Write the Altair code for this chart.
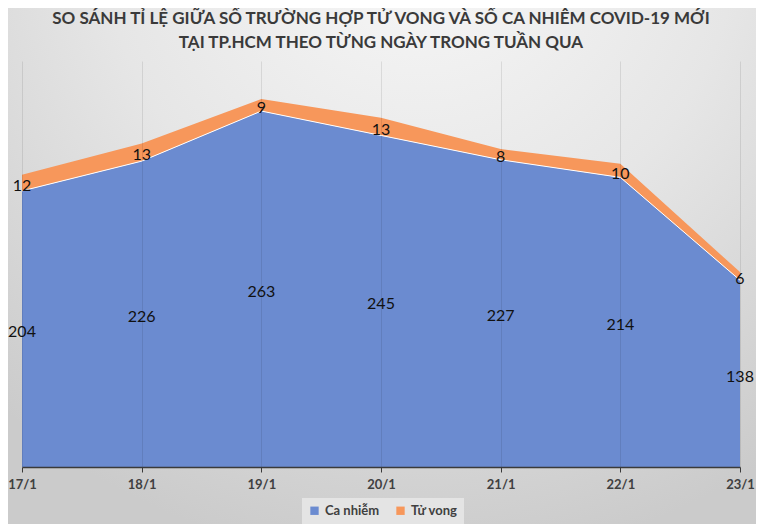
import altair as alt
import pandas as pd

dates = ["17/1", "18/1", "19/1", "20/1", "21/1", "22/1", "23/1"]
cases = [204, 226, 263, 245, 227, 214, 138]
deaths = [12, 13, 9, 13, 8, 10, 6]
series_names = ["Ca nhiễm", "Tử vong"]
series_colors = ["#6b8bd0", "#f7975b"]
title_lines = ["SO SÁNH TỈ LỆ GIỮA SỐ TRƯỜNG HỢP TỬ VONG VÀ SỐ CA NHIỄM COVID-19 MỚI",
               "TẠI TP.HCM THEO TỪNG NGÀY TRONG TUẦN QUA"]

rows = []
for d, c, k in zip(dates, cases, deaths):
    rows.append({"date": d, "series": series_names[0], "value": c, "ord": 0})
    rows.append({"date": d, "series": series_names[1], "value": k, "ord": 1})
df = pd.DataFrame(rows)

W, H = 718, 406
PAD = {"left": 14, "top": 53, "right": 16, "bottom": 57}

xenc = alt.X("date:N", sort=dates, scale=alt.Scale(type="point", padding=0),
             axis=alt.Axis(title=None, labelAngle=0, grid=True, gridColor="#000000",
                           gridOpacity=0.09, zindex=1,
                           domainColor="#3a3a3a", domainWidth=1.5, tickColor="#3a3a3a",
                           tickSize=5, labelFont="Lato", labelFontWeight="bold",
                           labelFontSize=13, labelColor="#404040", labelPadding=6))
yscale = alt.Scale(domain=[0, 300])

bg = alt.Chart(pd.DataFrame({"a": [0]})).mark_rect(
    fill=alt.Gradient(gradient="radial", stops=[
        alt.GradientStop(color="#f8f8f8", offset=0),
        alt.GradientStop(color="#e6e6e6", offset=0.5),
        alt.GradientStop(color="#cbcbcb", offset=1)],
        x1=0.55, y1=0.05, r1=0, x2=0.55, y2=0.05, r2=0.85),
    clip=False
).encode(x=alt.value(-PAD["left"]), x2=alt.value(W + PAD["right"]),
         y=alt.value(-PAD["top"]), y2=alt.value(H + PAD["bottom"]))

base = alt.Chart(df)

area = base.mark_area(opacity=1).encode(
    x=xenc,
    y=alt.Y("value:Q", stack="zero", scale=yscale, axis=None),
    color=alt.Color("series:N", sort=series_names,
                    scale=alt.Scale(domain=series_names, range=series_colors),
                    legend=alt.Legend(title=None, orient="none", direction="horizontal",
                                      legendX=280, legendY=437, symbolType="square",
                                      symbolSize=70, labelFont="Lato", labelFontSize=13,
                                      labelFontWeight="bold", labelColor="#404040",
                                      columnPadding=14, fillColor="#e4e4e4", padding=6,
                                      zindex=2)),
    order=alt.Order("ord:Q"),
)

edge = alt.Chart(pd.DataFrame({"date": dates, "value": cases})).mark_line(
    color="white", strokeWidth=1).encode(
    x=alt.X("date:N", sort=dates, scale=alt.Scale(type="point", padding=0)),
    y=alt.Y("value:Q", scale=yscale))

labels = base.transform_stack(
    stack="value", groupby=["date"], as_=["y0", "y1"], sort=[alt.SortField("ord")]
).transform_calculate(mid="(datum.y0 + datum.y1) / 2").mark_text(
    font="Lato", fontSize=16, color="#111111", baseline="middle", dy=3
).encode(
    x=alt.X("date:N", sort=dates, scale=alt.Scale(type="point", padding=0)),
    y=alt.Y("mid:Q", scale=yscale),
    text="value:Q")

chart = alt.layer(bg, area, edge, labels).properties(
    width=W, height=H,
    padding=PAD,
    autosize=alt.AutoSizeParams(type="none"),
    background="#d6d6d6",
    title=alt.TitleParams(text=title_lines, anchor="middle", font="Lato",
                          fontSize=17, fontWeight="bold", color="#3a3a3a",
                          lineHeight=24, offset=-44, frame="group", zindex=2),
).configure_view(stroke=None)

chart.save("out.html", embed_options={"renderer": "svg", "actions": False})
